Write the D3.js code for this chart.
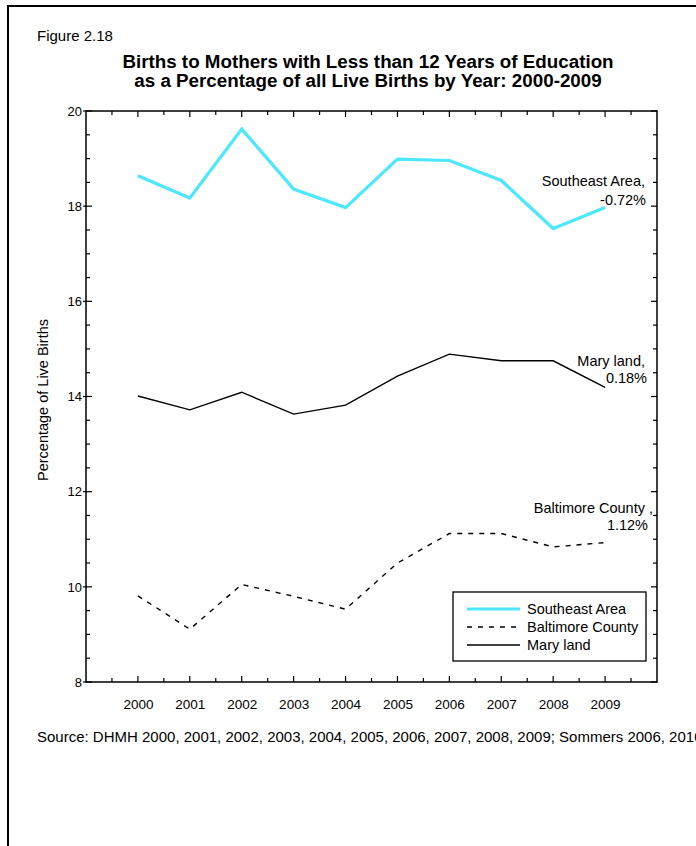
<!DOCTYPE html>
<html>
<head>
<meta charset="utf-8">
<script src="https://cdn.jsdelivr.net/npm/d3@7"></script>
<style>
  html, body { margin: 0; padding: 0; background: #fff; }
  svg { display: block; }
  text { font-family: "Liberation Sans", Arial, sans-serif; fill: #000; }
</style>
</head>
<body>
<svg id="chart" width="696" height="846"></svg>
<script>
const years = [2000, 2001, 2002, 2003, 2004, 2005, 2006, 2007, 2008, 2009];
const southeast = [18.64, 18.17, 19.62, 18.36, 17.97, 18.99, 18.96, 18.54, 17.53, 17.97];
const baltimore = [9.81, 9.11, 10.05, 9.80, 9.53, 10.50, 11.12, 11.12, 10.84, 10.93];
const maryland = [14.01, 13.72, 14.09, 13.63, 13.82, 14.43, 14.89, 14.75, 14.75, 14.19];
const seriesNames = ["Southeast Area", "Baltimore County", "Mary land"];
const endLabels = [["Southeast Area,", "-0.72%"], ["Mary land,", "0.18%"], ["Baltimore County ,", "1.12%"]];
const yTicks = [8, 10, 12, 14, 16, 18, 20];
const figureLabel = "Figure 2.18";
const titleLines = ["Births to Mothers with Less than 12 Years of Education", "as a Percentage of all Live Births by Year: 2000-2009"];
const yTitle = "Percentage of Live Births";
const sourceText = "Source: DHMH 2000, 2001, 2002, 2003, 2004, 2005, 2006, 2007, 2008, 2009; Sommers 2006, 2010";

const svg = d3.select("#chart");
const L = 86, R = 657, T = 111, B = 682;
const x = d3.scaleLinear().domain([1999, 2010]).range([L, R]);
const y = d3.scaleLinear().domain([8, 20]).range([B, T]);

// outer figure border
svg.append("rect").attr("x", 8).attr("y", 6).attr("width", 720).attr("height", 900)
  .attr("fill", "none").attr("stroke", "#000").attr("stroke-width", 2);

svg.append("text").attr("x", 37).attr("y", 41).attr("font-size", 15).text(figureLabel);
titleLines.forEach((t, i) => {
  svg.append("text").attr("x", 368).attr("y", 68 + i * 19).attr("text-anchor", "middle")
    .attr("font-size", 18.8).attr("font-weight", "bold").text(t);
});

// plot frame
svg.append("rect").attr("x", L).attr("y", T).attr("width", R - L).attr("height", B - T)
  .attr("fill", "none").attr("stroke", "#000").attr("stroke-width", 1.5);

// ticks
const g = svg.append("g").attr("stroke", "#000").attr("stroke-width", 1.2);
const yMinor = d3.range(8, 20.01, 0.5).filter(v => v % 2 !== 0);
yTicks.forEach(v => {
  g.append("line").attr("x1", L - 3).attr("x2", L + 6).attr("y1", y(v)).attr("y2", y(v));
  g.append("line").attr("x1", R - 6).attr("x2", R).attr("y1", y(v)).attr("y2", y(v));
});
yMinor.forEach(v => {
  g.append("line").attr("x1", L).attr("x2", L + 4).attr("y1", y(v)).attr("y2", y(v));
  g.append("line").attr("x1", R - 4).attr("x2", R).attr("y1", y(v)).attr("y2", y(v));
});
const xMinor = d3.range(1999.5, 2010, 1);
years.forEach(v => {
  g.append("line").attr("x1", x(v)).attr("x2", x(v)).attr("y1", T).attr("y2", T + 6);
  g.append("line").attr("x1", x(v)).attr("x2", x(v)).attr("y1", B - 6).attr("y2", B);
});
xMinor.forEach(v => {
  g.append("line").attr("x1", x(v)).attr("x2", x(v)).attr("y1", T).attr("y2", T + 4);
  g.append("line").attr("x1", x(v)).attr("x2", x(v)).attr("y1", B - 4).attr("y2", B);
});

// axis labels via d3 axes
const yAxis = svg.append("g").attr("transform", `translate(${L},0)`)
  .call(d3.axisLeft(y).tickValues(yTicks).tickSize(0).tickPadding(4).tickFormat(d3.format("d")));
yAxis.select(".domain").remove();
yAxis.selectAll("text").attr("font-size", 13).attr("font-family", "Liberation Sans, Arial, sans-serif");
const xAxis = svg.append("g").attr("transform", `translate(0,${B})`)
  .call(d3.axisBottom(x).tickValues(years).tickSize(0).tickPadding(17).tickFormat(d3.format("d")));
xAxis.select(".domain").remove();
xAxis.selectAll("text").attr("font-size", 13.5).attr("font-family", "Liberation Sans, Arial, sans-serif");

svg.append("text").attr("transform", "translate(48,400) rotate(-90)").attr("text-anchor", "middle")
  .attr("font-size", 14.5).text(yTitle);

// lines
const line = d3.line().x((d, i) => x(years[i])).y(d => y(d));
svg.append("path").datum(southeast).attr("d", line).attr("fill", "none")
  .attr("stroke", "#4de8ff").attr("stroke-width", 3.2);
svg.append("path").datum(baltimore).attr("d", line).attr("fill", "none")
  .attr("stroke", "#000").attr("stroke-width", 1.4).attr("stroke-dasharray", "5,6");
svg.append("path").datum(maryland).attr("d", line).attr("fill", "none")
  .attr("stroke", "#000").attr("stroke-width", 1.4);

// end labels
const endPos = [[645, 186, 646, 205], [645, 366, 647, 383], [653, 513, 648, 530]];
endLabels.forEach((lab, i) => {
  const p = endPos[i];
  svg.append("text").attr("x", p[0]).attr("y", p[1]).attr("text-anchor", "end").attr("font-size", 14.5).text(lab[0]);
  svg.append("text").attr("x", p[2]).attr("y", p[3]).attr("text-anchor", "end").attr("font-size", 14.5).text(lab[1]);
});

// legend
const lg = svg.append("g");
lg.append("rect").attr("x", 453).attr("y", 592).attr("width", 193).attr("height", 69)
  .attr("fill", "#fff").attr("stroke", "#000").attr("stroke-width", 1.3);
const legStyles = [["#4de8ff", 3.2, null], ["#000", 1.4, "5,6"], ["#000", 1.4, null]];
seriesNames.forEach((n, i) => {
  const yy = 609 + i * 18;
  lg.append("line").attr("x1", 467).attr("x2", 520).attr("y1", yy).attr("y2", yy)
    .attr("stroke", legStyles[i][0]).attr("stroke-width", legStyles[i][1])
    .attr("stroke-dasharray", legStyles[i][2]);
  lg.append("text").attr("x", 527).attr("y", yy + 5).attr("font-size", 14.5).text(n);
});

svg.append("text").attr("x", 37).attr("y", 742).attr("font-size", 15).text(sourceText);
</script>
</body>
</html>
